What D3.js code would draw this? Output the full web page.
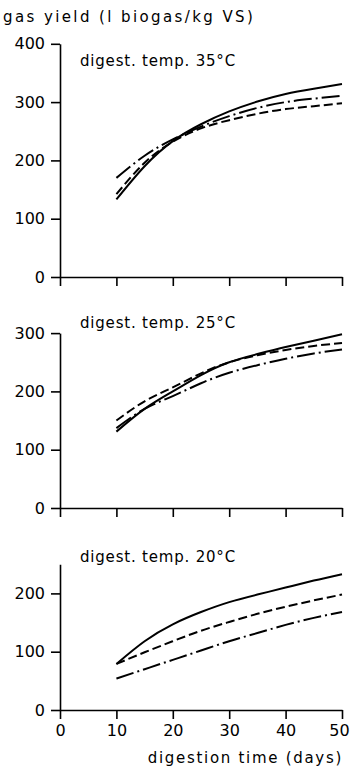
<!DOCTYPE html>
<html>
<head>
<meta charset="utf-8">
<script src="https://cdn.jsdelivr.net/npm/d3@7"></script>
<style>
  body { margin: 0; background: #fff; }
  svg { display: block; }
  text { font-family: "DejaVu Sans", sans-serif; fill: #000; }
  .axis path, .axis line { stroke: #000; stroke-width: 1.6px; }
  .axis text { font-size: 16px; }
</style>
</head>
<body>
<div id="chart"></div>
<script>
// digestion time (days)
var days = [10, 15, 20, 25, 30, 35, 40, 45, 50];
var xTicks = [0, 10, 20, 30, 40, 50];

// gas yield, l biogas / kg VS
var solid35   = [133, 190, 233, 262, 284, 301, 314, 323, 331];
var dashed35  = [142, 196, 232, 255, 269, 280, 288, 293, 298];
var dashdot35 = [170, 208, 236, 258, 276, 290, 300, 306, 311];

var solid25   = [131, 170, 200, 228, 250, 264, 276, 287, 298];
var dashed25  = [150, 183, 207, 231, 250, 262, 271, 278, 283];
var dashdot25 = [137, 170, 192, 214, 232, 245, 256, 265, 272];

var solid20   = [79, 118, 147, 168, 185, 198, 210, 222, 233];
var dashed20  = [79, 99, 118, 136, 151, 165, 177, 188, 198];
var dashdot20 = [54, 70, 86, 102, 118, 132, 146, 158, 168];

var panels = [
  { title: "digest. temp. 35°C", yMax: 400, yTicks: [0, 100, 200, 300, 400], series: [solid35, dashed35, dashdot35] },
  { title: "digest. temp. 25°C", yMax: 300, yTicks: [0, 100, 200, 300], series: [solid25, dashed25, dashdot25] },
  { title: "digest. temp. 20°C", yMax: 250, yTicks: [0, 100, 200], series: [solid20, dashed20, dashdot20] }
];

var width = 350, height = 771;
var zeroY = [277, 508, 710];   // baseline of each panel
var titleY = [66, 328, 562];
var pxPerUnit = 0.583;
var dashes = [null, "9,4", "18,4,2,4"];

var svg = d3.select("#chart").append("svg")
    .attr("width", width)
    .attr("height", height);

var x = d3.scaleLinear().domain([0, 50]).range([60, 342]);

svg.append("text")
    .attr("x", 3)
    .attr("y", 22)
    .style("font-size", "15px")
    .style("letter-spacing", "2.4px")
    .text("gas yield (l biogas/kg VS)");

panels.forEach(function(p, i) {
  var y = d3.scaleLinear()
      .domain([0, p.yMax])
      .range([zeroY[i], zeroY[i] - p.yMax * pxPerUnit]);

  var g = svg.append("g");

  var xAxis = g.append("g")
      .attr("class", "axis")
      .attr("transform", "translate(0," + zeroY[i] + ")")
      .call(d3.axisBottom(x)
        .tickValues(xTicks)
        .tickSize(9)
        .tickSizeOuter(0)
        .tickPadding(6)
        .tickFormat(i == 2 ? d3.format("d") : function() { return ""; }));

  // last label sits right on the page edge, nudge it in
  xAxis.selectAll(".tick text").filter(function(d) { return d == 50; })
      .attr("dx", -3);

  g.append("g")
      .attr("class", "axis")
      .attr("transform", "translate(60,0)")
      .call(d3.axisLeft(y)
        .tickValues(p.yTicks)
        .tickSize(9)
        .tickSizeOuter(0)
        .tickPadding(6));

  g.selectAll(".axis .domain").attr("fill", "none");

  g.append("text")
      .attr("x", 80)
      .attr("y", titleY[i])
      .style("font-size", "15px")
      .style("letter-spacing", "0.8px")
      .text(p.title);

  var line = d3.line()
      .x(function(d, k) { return x(days[k]); })
      .y(function(d) { return y(d); })
      .curve(d3.curveNatural);

  p.series.forEach(function(s, k) {
    g.append("path")
        .datum(s)
        .attr("d", line)
        .attr("fill", "none")
        .attr("stroke", "#000")
        .attr("stroke-width", 2)
        .attr("stroke-dasharray", dashes[k]);
  });
});

svg.append("text")
    .attr("x", 343)
    .attr("y", 763)
    .attr("text-anchor", "end")
    .style("font-size", "15px")
    .style("letter-spacing", "1.7px")
    .text("digestion time (days)");
</script>
</body>
</html>
